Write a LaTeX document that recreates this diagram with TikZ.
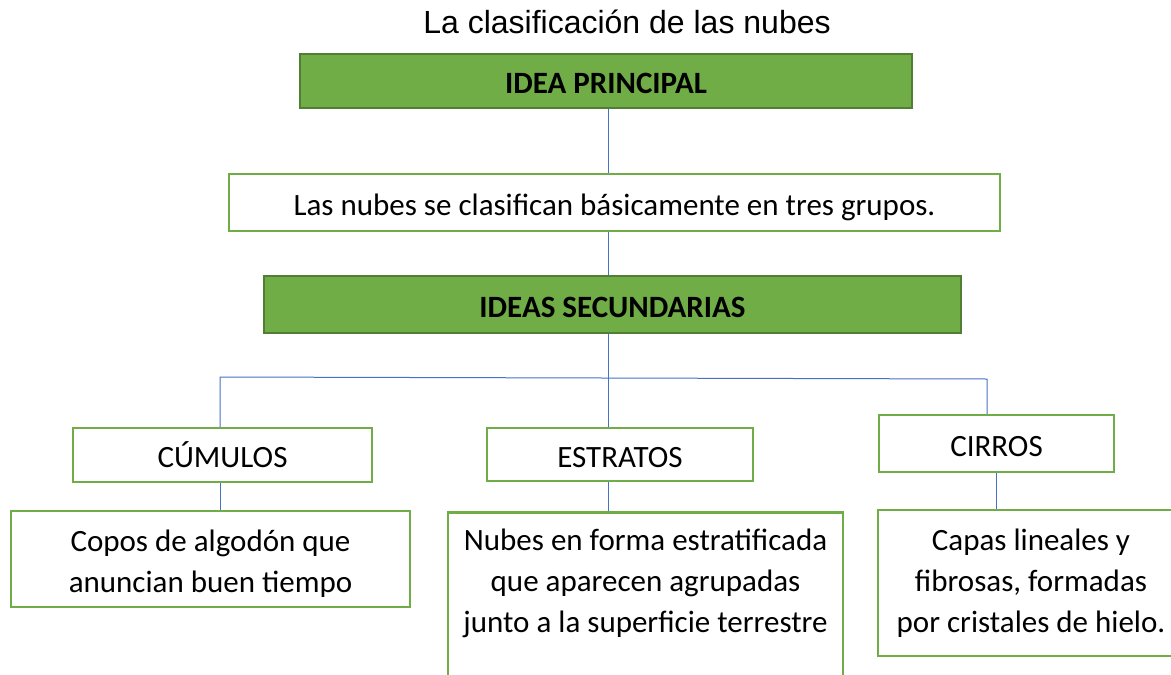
\documentclass[tikz,border=0pt]{standalone}
\usepackage{fontspec}
\setmainfont{Carlito}
\newfontfamily\titulo{Liberation Sans}
\definecolor{verde}{HTML}{70AD47}
\definecolor{verdeosc}{HTML}{507E32}
\definecolor{azul}{HTML}{4472C4}

\begin{document}
\begin{tikzpicture}[x=1pt, y=-1pt,
	idea/.style={draw=verdeosc, fill=verde, line width=2.5pt, inner sep=0pt, text height=28pt, text depth=3pt, font=\fontsize{31}{41}\selectfont\bfseries},
	caja/.style={draw=verde, fill=white, line width=2.5pt, inner sep=0pt, align=center, font=\fontsize{31}{41}\selectfont},
	etiqueta/.style={caja, text height=28pt, text depth=3pt},
	conector/.style={draw=azul, line width=1pt}]
\useasboundingbox (0, 0) rectangle (1171, 675);
\clip (0, 0) rectangle (1171, 675);

\node[font=\titulo\fontsize{32}{38}\selectfont, anchor=base] (titulo) at (627, 33) {La clasificación de las nubes};

\node[idea, minimum width=612pt, minimum height=54pt] (ip) at (606, 81) {IDEA PRINCIPAL};
\node[etiqueta, minimum width=771pt, minimum height=57pt] (grupos) at (614.5, 202.5) {Las nubes se clasifican básicamente en tres grupos.};
\node[idea, minimum width=697pt, minimum height=57pt] (is) at (612.5, 304.5) {IDEAS SECUNDARIAS};

\node[etiqueta, minimum width=299pt, minimum height=54pt] (cum) at (222.5, 455) {CÚMULOS};
\node[etiqueta, minimum width=266pt, minimum height=53pt] (est) at (620, 454.5) {ESTRATOS};
\node[etiqueta, minimum width=235pt, minimum height=57pt] (cir) at (996.5, 443.5) {CIRROS};

\node[caja, minimum width=399pt, minimum height=96pt] (copos) at (210.5, 559) {\rule{0pt}{31pt}Copos de algodón que\\anuncian buen tiempo};
\node[caja, minimum width=395pt, minimum height=178pt, anchor=north] (nubes) at (645.5, 511) {Nubes en forma estratificada\\que aparecen agrupadas\\junto a la superficie terrestre\\~};
\node[caja, minimum width=306pt, minimum height=146pt] (capas) at (1031, 583) {Capas lineales y\\fibrosas, formadas\\por cristales de hielo.};

\coordinate (tronco) at (608, 378);
\coordinate (izq) at (220, 377);
\coordinate (der) at (987, 379);

\draw[conector] (ip.south -| tronco) -- (grupos.north -| tronco);
\draw[conector] (grupos.south -| tronco) -- (is.north -| tronco);
\draw[conector] (is.south -| tronco) -- (est.north -| tronco);
\draw[conector] (cum.north -| izq) -- (izq) -- (der) -- (cir.north -| der);
\draw[conector] (cum.south -| izq) -- (copos.north -| izq);
\draw[conector] (est.south -| tronco) -- (nubes.north -| tronco);
\draw[conector] (cir.south) -- (capas.north -| cir.south);
\end{tikzpicture}
\end{document}
